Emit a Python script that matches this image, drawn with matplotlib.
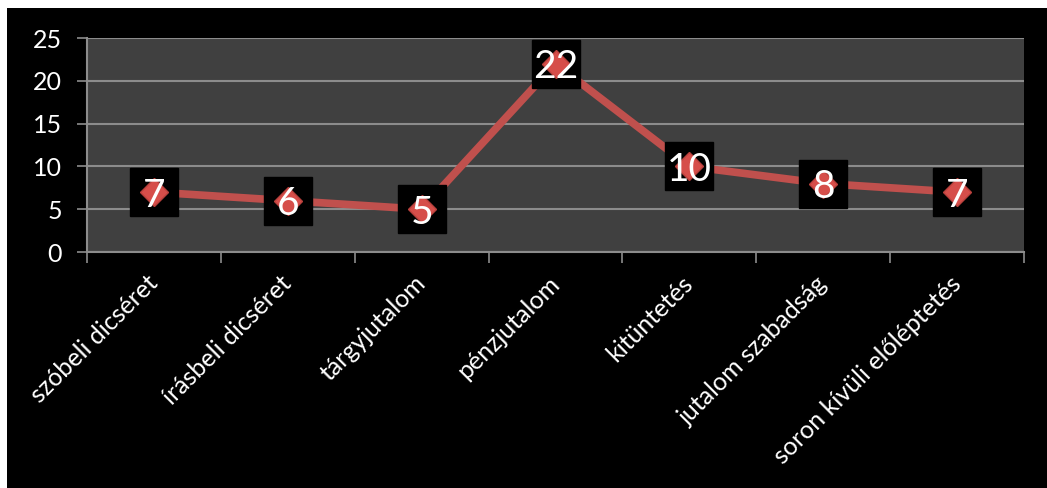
import matplotlib.pyplot as plt
from matplotlib.patches import Rectangle
import numpy as np

categories = ["szóbeli dicséret", "írásbeli dicséret", "tárgyjutalom", "pénzjutalom",
              "kitüntetés", "jutalom szabadság", "soron kívüli előléptetés"]
values = [7, 6, 5, 22, 10, 8, 7]
y_ticks = [0, 5, 10, 15, 20, 25]

plt.rcParams['font.family'] = ['Lato', 'DejaVu Sans']

fig = plt.figure(figsize=(10.47, 4.88), dpi=100)
fig.patch.set_facecolor('white')
fig.patches.append(Rectangle((7 / 1047, 0), 1 - 7 / 1047, 1 - 8 / 488,
                             transform=fig.transFigure, facecolor='black',
                             edgecolor='none', zorder=-10))

ax = fig.add_axes([87 / 1047, (488 - 252) / 488, 937 / 1047, 214 / 488])
ax.set_facecolor('#404040')

x = np.arange(len(categories))
ax.plot(x, values, color='#C0504D', linewidth=5.5, zorder=2, solid_capstyle='butt')
# black label boxes
ax.plot(x, values, linestyle='none', marker='s', markersize=35,
        markerfacecolor='black', markeredgecolor='black', zorder=3)
# diamond markers
ax.plot(x, values, linestyle='none', marker='D', markersize=14,
        markerfacecolor='#D64E4A', markeredgecolor='#B8403C', markeredgewidth=1, zorder=4)
for xi, v in zip(x, values):
    ax.text(xi, v, str(v), color='white', fontsize=28, ha='center', va='center_baseline',
            zorder=5)

ax.set_xlim(-0.5, len(categories) - 0.5)
ax.set_ylim(0, 25)
ax.set_yticks(y_ticks)
ax.set_yticklabels([str(t) for t in y_ticks])
ax.set_xticks(np.arange(len(categories) + 1) - 0.5)
ax.set_xticklabels([])
ax.set_xticks(x, minor=True)
ax.set_xticklabels(categories, minor=True, rotation=45, ha='right', va='center',
                   rotation_mode='anchor')
ax.tick_params(axis='x', which='minor', length=0, pad=20, labelsize=18, labelcolor='white')
ax.tick_params(axis='x', which='major', length=8, width=1.2, color='#8C8C8C', direction='out')
ax.tick_params(axis='y', length=7, width=1.2, color='#8C8C8C', pad=11,
               labelsize=18, labelcolor='white')

ax.yaxis.grid(True, color='#8C8C8C', linewidth=1.5)
ax.set_axisbelow(True)
for s in ['top', 'right']:
    ax.spines[s].set_visible(False)
for s in ['left', 'bottom']:
    ax.spines[s].set_color('#8C8C8C')
    ax.spines[s].set_linewidth(1.5)

plt.savefig('out.png', dpi=100, facecolor=fig.get_facecolor())
